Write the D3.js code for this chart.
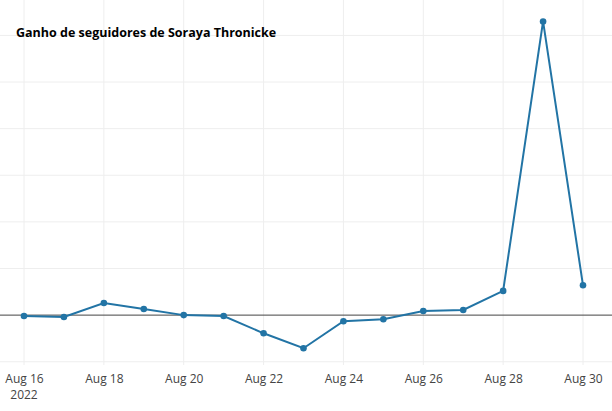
<!DOCTYPE html>
<html><head><meta charset="utf-8">
<script src="https://cdn.jsdelivr.net/npm/d3@7"></script>
<style>body{margin:0;background:#fff}</style>
</head><body>
<svg id="c" width="612" height="411"></svg>
<script>
const dates = ["2022-08-16","2022-08-17","2022-08-18","2022-08-19","2022-08-20","2022-08-21","2022-08-22","2022-08-23","2022-08-24","2022-08-25","2022-08-26","2022-08-27","2022-08-28","2022-08-29","2022-08-30"];
const gains = [-2,-4,26,13,0,-2,-39,-71,-13,-9,9,11,52,630,64];
const xTicks = ["2022-08-16","2022-08-18","2022-08-20","2022-08-22","2022-08-24","2022-08-26","2022-08-28","2022-08-30"];
const yTicks = [-100,100,200,300,400,500,600];
const title = "Ganho de seguidores de Soraya Thronicke";

const svg = d3.select("#c");
const parse = d3.timeParse("%Y-%m-%d");
const data = dates.map((d,i)=>({d:parse(d),v:gains[i]}));
const xt = xTicks.map(parse);
const x = d3.scaleTime().domain([parse("2022-08-16"),parse("2022-08-30")]).range([24,583]);
const y = d3.scaleLinear().domain([-107,676]).range([365,0]);

svg.append("g").selectAll("line").data(yTicks).join("line")
  .attr("x1",0).attr("x2",612).attr("y1",d=>y(d)).attr("y2",d=>y(d))
  .attr("stroke","#eeeeee").attr("stroke-width",1);
svg.append("g").selectAll("line").data(xt).join("line")
  .attr("x1",d=>x(d)).attr("x2",d=>x(d)).attr("y1",0).attr("y2",365)
  .attr("stroke","#eeeeee").attr("stroke-width",1);
svg.append("line").attr("x1",0).attr("x2",612).attr("y1",y(0)).attr("y2",y(0))
  .attr("stroke","#444").attr("stroke-width",1);

const xa = svg.append("g").attr("transform","translate(0,365)")
  .call(d3.axisBottom(x).tickValues(xt).tickSize(0).tickPadding(9)
  .tickFormat(d=>d3.timeFormat("%b ")(d)+(+d3.timeFormat("%d")(d))));
xa.select(".domain").remove();
xa.selectAll("text").attr("font-family","'Open Sans',sans-serif").attr("font-size",12).attr("fill","#444");
svg.append("text").attr("x",x(xt[0])).attr("y",399).attr("text-anchor","middle")
  .attr("font-family","'Open Sans',sans-serif").attr("font-size",12).attr("fill","#444").text("2022");

svg.append("path").datum(data).attr("fill","none").attr("stroke","#2274a5").attr("stroke-width",2)
  .attr("d",d3.line().x(d=>x(d.d)).y(d=>y(d.v)));
svg.append("g").selectAll("circle").data(data).join("circle")
  .attr("cx",d=>x(d.d)).attr("cy",d=>y(d.v)).attr("r",3.3).attr("fill","#2274a5");

svg.append("text").attr("x",16).attr("y",37).attr("font-family","'Open Sans',sans-serif")
  .attr("font-weight","bold").attr("font-size",12.5).attr("fill","#000").text(title);
</script>
</body></html>
